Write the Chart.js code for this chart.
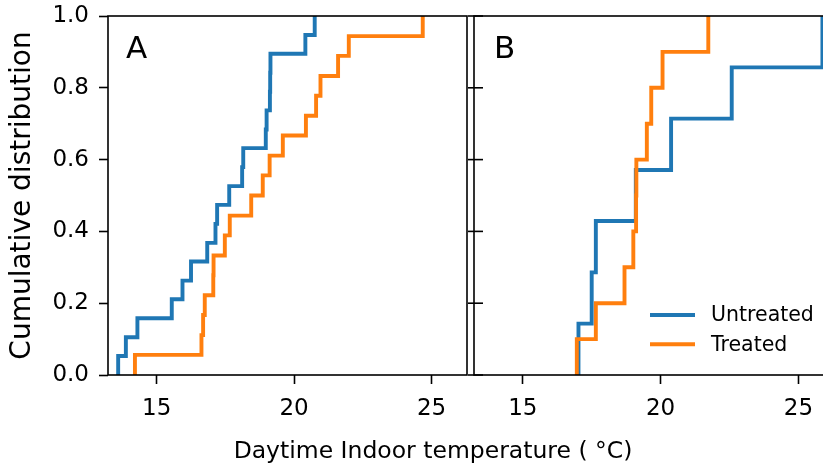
<!DOCTYPE html>
<html>
<head>
<meta charset="utf-8">
<script src="https://cdn.jsdelivr.net/npm/chart.js@4.4.0/dist/chart.umd.min.js"></script>
<style>
  html, body { margin: 0; padding: 0; background: #fff; overflow: hidden; }
  body { width: 823px; height: 465px; position: relative; font-family: 'DejaVu Sans', sans-serif; }
  #left { position: absolute; left: 0; top: 0; }
  #right { position: absolute; left: 460px; top: 0; }
  #xlabel { position: absolute; left: 0; top: 436px; width: 866px; text-align: center;
            font-size: 23.5px; line-height: 28px; color: #000; white-space: nowrap; }
</style>
</head>
<body>
<canvas id="left" width="470" height="465"></canvas>
<canvas id="right" width="380" height="465"></canvas>
<div id="xlabel">Daytime Indoor temperature ( °C)</div>
<script>
// tick labels
const xTicks = [15, 20, 25];
const yTicks = [0, 0.2, 0.4, 0.6, 0.8, 1.0];

// panel A: step positions (deg C) and cumulative level after each step
const aUntreatedTemp = [13.60, 13.60, 13.88, 14.30, 15.55, 15.94, 16.25, 16.84, 17.14, 17.20, 17.64,
                        18.11, 18.15, 18.97, 19.00, 19.12, 19.13, 19.14, 20.41, 20.75];
const aUntreatedCum = [0, 0.053, 0.105, 0.158, 0.211, 0.263, 0.316, 0.368, 0.421, 0.474, 0.526,
                       0.579, 0.632, 0.684, 0.737, 0.789, 0.842, 0.895, 0.947, 1.0];
const aTreatedTemp = [14.21, 14.21, 16.63, 16.69, 16.75, 17.06, 17.07, 17.48, 17.66, 18.44,
                      18.86, 19.11, 19.59, 20.43, 20.80, 20.96, 21.60, 21.99, 24.68];
const aTreatedCum = [0, 0.056, 0.111, 0.167, 0.222, 0.278, 0.333, 0.389, 0.444, 0.5,
                     0.556, 0.611, 0.667, 0.722, 0.778, 0.833, 0.889, 0.944, 1.0];

// panel B
const bUntreatedTemp = [17.02, 17.02, 17.50, 17.65, 19.10, 20.38, 22.58, 25.87];
const bUntreatedCum = [0, 0.143, 0.286, 0.429, 0.571, 0.714, 0.857, 1.0];
const bTreatedTemp = [16.96, 16.96, 17.65, 18.69, 19.01, 19.11, 19.12, 19.50, 19.66, 20.07, 21.73];
const bTreatedCum = [0, 0.1, 0.2, 0.3, 0.4, 0.5, 0.6, 0.7, 0.8, 0.9, 1.0];

const BLUE = '#1f77b4';
const ORANGE = '#ff7f0e';

Chart.defaults.font.family = "'DejaVu Sans', sans-serif";
Chart.defaults.color = '#000';

const toPoints = (xs, ys) => xs.map((x, i) => ({ x: x, y: ys[i] }));

function stepSet(label, xs, ys, color, order) {
    return {
        label: label,
        data: toPoints(xs, ys),
        borderColor: color,
        borderWidth: 3.9,
        stepped: 'before',
        pointRadius: 0,
        fill: false,
        order: order,
    };
}

// frame, panel letter, inner ticks and legend
const decor = {
    id: 'decor',
    afterDraw(chart, args, opts) {
        const { ctx, chartArea: a } = chart;
        ctx.save();
        ctx.strokeStyle = '#000';
        ctx.lineWidth = 1.6;
        ctx.strokeRect(a.left, a.top, a.right - a.left, a.bottom - a.top);

        if (opts.innerTicks) {
            const ys = chart.scales.y;
            yTicks.forEach(v => {
                const py = ys.getPixelForValue(v);
                ctx.beginPath();
                ctx.moveTo(a.left - 6, py);
                ctx.lineTo(a.left + 9, py);
                ctx.stroke();
            });
        }

        ctx.fillStyle = '#000';
        ctx.font = "31px 'DejaVu Sans'";
        ctx.textBaseline = 'alphabetic';
        ctx.fillText(opts.letter, a.left + opts.letterDx, a.top + 42);

        if (opts.legend) {
            ctx.font = "20.5px 'DejaVu Sans'";
            ctx.textBaseline = 'middle';
            chart.data.datasets.forEach((ds, i) => {
                const y = a.bottom - 60 + i * 29.3;
                ctx.strokeStyle = ds.borderColor;
                ctx.lineWidth = 3.9;
                ctx.beginPath();
                ctx.moveTo(a.right - 184, y);
                ctx.lineTo(a.right - 139, y);
                ctx.stroke();
                ctx.fillText(ds.label, a.right - 123, y + 1);
            });
        }
        ctx.restore();
    }
};

const tickGrid = { drawOnChartArea: false, drawTicks: true, tickLength: 9, tickColor: '#000', tickWidth: 1.6 };

function xAxis() {
    return {
        type: 'linear',
        min: 13.23,
        max: 26.29,
        afterBuildTicks: s => { s.ticks = xTicks.map(v => ({ value: v })); },
        afterFit: s => { s.height = 90; s.paddingLeft = 0; s.paddingRight = 0; },
        border: { display: false },
        grid: tickGrid,
        ticks: { color: '#000', font: { size: 23 }, padding: 11, maxRotation: 0, callback: v => String(v) },
    };
}

new Chart(document.getElementById('left'), {
    type: 'line',
    data: {
        datasets: [
            stepSet('Untreated', aUntreatedTemp, aUntreatedCum, BLUE, 1),
            stepSet('Treated', aTreatedTemp, aTreatedCum, ORANGE, 0),
        ],
    },
    options: {
        responsive: false,
        animation: false,
        layout: { padding: { left: 0, top: 16, right: 3, bottom: 0 } },
        scales: {
            x: xAxis(),
            y: {
                min: 0,
                max: 1,
                afterBuildTicks: s => { s.ticks = yTicks.map(v => ({ value: v })); },
                afterFit: s => { s.width = 108; s.paddingTop = 0; s.paddingBottom = 0; },
                border: { display: false },
                grid: tickGrid,
                ticks: { color: '#000', font: { size: 23 }, padding: 10, callback: v => v.toFixed(1) },
                title: {
                    display: true,
                    text: 'Cumulative distribution',
                    color: '#000',
                    font: { size: 28, lineHeight: 1 },
                    padding: { top: 9, bottom: 0 },
                },
            },
        },
        plugins: {
            legend: { display: false },
            tooltip: { enabled: false },
            decor: { letter: 'A', letterDx: 18 },
        },
    },
    plugins: [decor],
});

new Chart(document.getElementById('right'), {
    type: 'line',
    data: {
        datasets: [
            stepSet('Untreated', bUntreatedTemp, bUntreatedCum, BLUE, 1),
            stepSet('Treated', bTreatedTemp, bTreatedCum, ORANGE, 0),
        ],
    },
    options: {
        responsive: false,
        animation: false,
        layout: { padding: { left: 14, top: 16, right: 6, bottom: 0 } },
        scales: {
            x: xAxis(),
            y: { display: false, min: 0, max: 1 },
        },
        plugins: {
            legend: { display: false },
            tooltip: { enabled: false },
            decor: { letter: 'B', letterDx: 20, innerTicks: true, legend: true },
        },
    },
    plugins: [decor],
});
</script>
</body>
</html>
